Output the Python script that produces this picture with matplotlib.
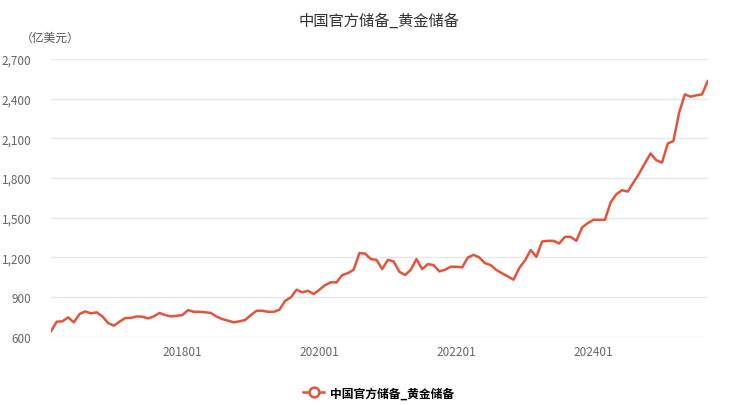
import matplotlib
matplotlib.use("Agg")
import matplotlib.pyplot as plt
from matplotlib.lines import Line2D

plt.rcParams["font.family"] = ["Noto Sans CJK SC", "DejaVu Sans"]

# 月份标签（横轴类目）
months = []
y, m = 2016, 2
for _ in range(116):
    months.append(f"{y}{m:02d}")
    m += 1
    if m > 12:
        y, m = y + 1, 1

# 中国官方储备_黄金储备（亿美元）
gold_reserve = [
    640, 712, 715, 745, 707, 770, 790, 775, 783, 752, 702, 682,
    712, 740, 740, 752, 750, 737, 752, 778, 762, 752, 757, 762,
    800, 787, 787, 783, 778, 750, 732, 720, 707, 715, 725, 762,
    795, 795, 787, 787, 802, 870, 896, 954, 934, 946, 921, 954,
    989, 1010, 1010, 1065, 1080, 1105, 1231, 1228, 1186, 1180, 1110, 1180,
    1168, 1090, 1065, 1105, 1186, 1110, 1148, 1140, 1093, 1105, 1128, 1128,
    1123, 1198, 1218, 1198, 1155, 1140, 1103, 1078, 1055, 1030, 1118, 1175,
    1254, 1203, 1319, 1324, 1324, 1304, 1354, 1354, 1324, 1425, 1458, 1483,
    1483, 1483, 1614, 1677, 1707, 1697, 1765, 1833, 1911, 1985, 1934, 1916,
    2060, 2080, 2294, 2432, 2415, 2425, 2432, 2533,
]

tick_labels = ["201801", "202001", "202201", "202401"]
y_ticks = [600, 900, 1200, 1500, 1800, 2100, 2400, 2700]

line_color = "#e5533a"
title = "中国官方储备_黄金储备"

fig = plt.figure(figsize=(7.5, 4.06), dpi=100)
ax = fig.add_axes([0.068, 0.1687, 0.8756, 0.6835])

x = list(range(len(gold_reserve)))
ax.plot(x, gold_reserve, color=line_color, linewidth=1.8, solid_joinstyle="round")

ax.set_xlim(0, len(gold_reserve) - 1)
ax.set_ylim(600, 2700)
ax.set_yticks(y_ticks)
ax.set_yticklabels([f"{v:,}" for v in y_ticks])
ax.set_xticks([months.index(t) for t in tick_labels])
ax.set_xticklabels(tick_labels)

ax.grid(axis="y", color="#e8e8e8", linewidth=1)
ax.set_axisbelow(True)
for s in ax.spines.values():
    s.set_visible(False)
ax.tick_params(axis="both", length=0, colors="#666666", labelsize=8.5)
ax.tick_params(axis="y", pad=14)
ax.tick_params(axis="x", pad=6)

fig.text(0.505, 0.948, title, ha="center", va="center", fontsize=11, color="#333333")
fig.text(0.067, 0.906, "（亿美元）", ha="center", va="center", fontsize=8.5, color="#555555")

handle = Line2D([], [], color=line_color, linewidth=1.8, marker="o", markersize=7,
                markerfacecolor="white", markeredgecolor=line_color, markeredgewidth=1.8)
fig.legend([handle], [title], loc="center", bbox_to_anchor=(0.505, 0.03), frameon=False,
           handlelength=1.8, handletextpad=0.5,
           prop={"weight": "bold", "size": 8.5})

fig.savefig("out.png", dpi=100, facecolor="white")
